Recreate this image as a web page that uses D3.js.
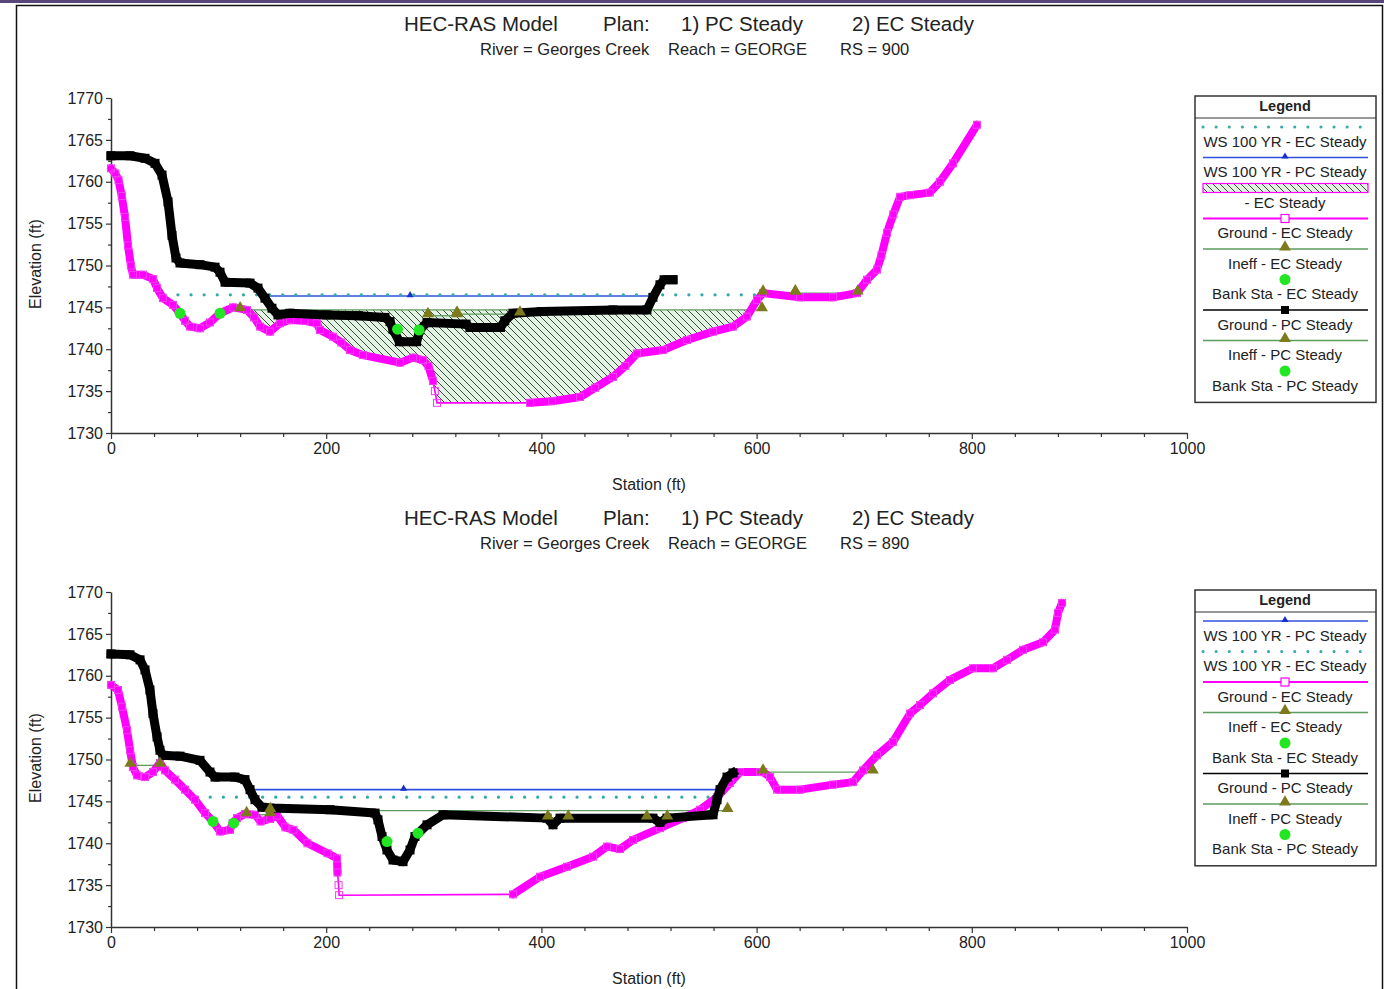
<!DOCTYPE html>
<html><head><meta charset="utf-8">
<script src="https://cdn.jsdelivr.net/npm/d3@7"></script>
<style>
html,body{margin:0;padding:0;background:#fff;}
svg{display:block;font-family:"Liberation Sans",Arial,sans-serif;}
</style></head><body>
<svg id="c" width="1384" height="989"></svg>
<script>
// ---------- tick labels ----------
const stationTicks = [0, 200, 400, 600, 800, 1000];
const elevTicks = [1730, 1735, 1740, 1745, 1750, 1755, 1760, 1765, 1770];

// ---------- RS = 900 ----------
const groundEC_900 = [[0,1761.6],[4,1761],[7,1760.2],[10,1758.3],[13,1755.8],[15.8,1752.4],[18.5,1750],[20.4,1748.9],[29.7,1748.9],[39,1748.4],[42.8,1747.3],[48.3,1746.1],[57.6,1745.3],[64.1,1744.3],[68.8,1743.4],[73.4,1742.7],[82.7,1742.5],[92,1743.2],[101.3,1744.3],[113.4,1745.0],[126.4,1744.7],[133,1743.8],[138.5,1742.7],[147.8,1742.1],[157,1743.1],[166.4,1743.5],[180,1743.4],[191.4,1743.1],[194.2,1742.3],[206.3,1741.5],[214,1740.8],[222.1,1739.9],[234.2,1739.3],[268.6,1738.4],[280.7,1739],[290,1738.7],[295,1738.0],[299.3,1736.2],[301,1735],[303,1733.6],[389.4,1733.6],[410,1733.8],[435.9,1734.3],[450,1735.4],[466.5,1736.7],[478,1738],[488.8,1739.5],[513,1739.9],[535.3,1741.1],[559.5,1742.1],[578,1742.7],[591,1743.9],[600.4,1745.9],[606,1746.7],[640.3,1746.2],[671,1746.2],[693.3,1746.7],[702.6,1748.3],[711.9,1749.5],[716,1751.2],[721.2,1753.9],[727,1756.1],[733.3,1758.2],[742.6,1758.4],[761,1758.7],[770.4,1760],[782.5,1762.2],[804.8,1766.8]];
const sparseEC_900 = [[298, 390]];
const groundPC_900 = [[0,1763.1],[17.7,1763.1],[31.6,1762.8],[40.9,1762.2],[47.4,1760.8],[53,1757.6],[56.7,1753.6],[60.4,1750.9],[64.1,1750.3],[82.7,1750.1],[96.7,1749.8],[101.3,1749.2],[106,1748],[129.2,1747.9],[136.6,1747.3],[143.1,1746.1],[149.6,1744.9],[155.2,1744.1],[166.4,1744.3],[200,1744.1],[230,1744.0],[254.6,1743.8],[259.3,1743.3],[262,1742.4],[268,1740.9],[284,1740.9],[287,1742.3],[293.7,1743.2],[330,1743.0],[333.6,1742.6],[362,1742.6],[366,1743.4],[373.6,1744.3],[400,1744.5],[466.5,1744.7],[498.1,1744.7],[503.7,1746.2],[510.2,1747.7],[514,1748.3],[522.3,1748.3]];
const wsEC_900 = [50, 700, 1746.5];
const wsPC_900 = [140, 504, 1746.35];
const hatchEC_900 = [120, 605, 1744.7];
const ineffEC_900 = [[120,605,1744.7],[606,636,1746.7],[636,694,1746.7]];
const ineffPC_900 = [[294.6,321.6,1744.0],[321.6,380.1,1744.2]];
const bankEC_900 = [[64.1,1744.3],[101.3,1744.3]];
const bankPC_900 = [[266.3,1742.4],[286.3,1742.3]];
const legendKeys_900 = ["wsEC","wsPC","hatch","gEC","iEC","bEC","gPC","iPC","bPC"];
const legendText_900 = ["WS 100 YR - EC Steady","WS 100 YR - PC Steady","- EC Steady","Ground - EC Steady","Ineff - EC Steady","Bank Sta - EC Steady","Ground - PC Steady","Ineff - PC Steady","Bank Sta - PC Steady"];

// ---------- RS = 890 ----------
const groundEC_890 = [[0,1758.9],[6.5,1758.3],[10.2,1756.3],[14.9,1753.5],[17.7,1751.1],[20.4,1749.1],[24.2,1748.1],[31.6,1747.9],[39,1748.5],[45.5,1749.6],[50.2,1748.7],[59.5,1747.6],[68.8,1746.4],[78.1,1745.2],[87.4,1743.6],[94.8,1742.6],[101.3,1741.4],[110.6,1741.6],[113,1742.4],[117.1,1743.0],[124.5,1743.5],[133.8,1743.4],[139,1742.6],[147.8,1742.9],[154.5,1743.3],[162,1741.9],[169.6,1741.6],[182.6,1740],[201.2,1738.8],[210,1738.2],[210.5,1736.5],[211.5,1735],[212,1733.8],[373.6,1733.9],[398.7,1736],[423.8,1737.2],[448,1738.4],[461,1739.6],[473,1739.3],[485.1,1740.4],[510.2,1741.8],[531.6,1743],[547.4,1744],[563.2,1745.5],[575.3,1747.2],[584.6,1748.5],[603.2,1748.5],[606,1748.5],[612.5,1747.9],[619,1746.4],[640.3,1746.4],[671,1747],[689.6,1747.3],[698.9,1748.7],[711.9,1750.5],[726.8,1752.1],[742.6,1755.5],[751.9,1756.5],[763.9,1757.9],[779.7,1759.5],[801.1,1760.9],[819.7,1760.9],[832.7,1761.9],[847.6,1763.1],[866.2,1764],[877.3,1765.5],[880.1,1767.5],[883.8,1768.7]];
const sparseEC_890 = [[210.2, 374]];
const groundPC_890 = [[0,1762.6],[17.7,1762.5],[27,1761.9],[31.6,1760.7],[36.2,1758.3],[39,1755.5],[42.8,1752.7],[45.5,1751.1],[48.3,1750.5],[64.1,1750.4],[82.7,1749.9],[92,1748.5],[96.7,1747.9],[115.2,1747.9],[124.5,1747.6],[129.2,1746.4],[133.8,1745.2],[140.3,1744.3],[147.8,1744.2],[203.5,1744.0],[245.4,1743.6],[248.1,1742.8],[251.9,1740.8],[256.5,1739.2],[262.1,1738],[271.4,1737.8],[277.9,1739.2],[282.5,1740.8],[293.7,1742.2],[308.6,1743.4],[405.2,1743],[410.8,1742.2],[417.3,1743],[503.7,1743],[510.2,1742.5],[516.7,1743],[559.5,1743.4],[563.2,1745.2],[566,1746.4],[572.5,1747.9],[578.1,1748.4]];
const wsEC_890 = [80, 560, 1745.5];
const wsPC_890 = [129, 568, 1746.4];
const ineffEC_890 = [[18,45.5,1749.3],[126,148,1743.4],[148,573,1743.9],[606,708,1748.5]];
const ineffPC_890 = [[406,425,1743.0],[498,517,1743.0]];
const bankEC_890 = [[94.8,1742.6],[114,1742.4]];
const bankPC_890 = [[256.5,1740.2],[285.3,1741.2]];
const legendKeys_890 = ["wsPC","wsEC","gEC","iEC","bEC","gPC","iPC","bPC"];
const legendText_890 = ["WS 100 YR - PC Steady","WS 100 YR - EC Steady","Ground - EC Steady","Ineff - EC Steady","Bank Sta - EC Steady","Ground - PC Steady","Ineff - PC Steady","Bank Sta - PC Steady"];

const titleParts = ["HEC-RAS Model","Plan:","1) PC Steady","2) EC Steady"];

// ---------- styles ----------
const C = {magenta:"#ff00ff", black:"#000", blue:"#3050e0", cyan:"#36a9a9",
  ineffLine:"#5c9c5c", ineffTri:"#7d7a1c", bank:"#22e622", text:"#222"};

const svg = d3.select("#c");
const defs = svg.append("defs");
const pat = defs.append("pattern").attr("id","hatch").attr("patternUnits","userSpaceOnUse")
  .attr("width",7).attr("height",7);
pat.append("rect").attr("width",7).attr("height",7).attr("fill","#e4f2e4");
pat.append("path").attr("d","M0,0 L7,7 M-1,6 L1,8 M6,-1 L8,1").attr("stroke","#23402a").attr("stroke-width",0.9);

// window frame
svg.append("rect").attr("x",0).attr("y",0).attr("width",1384).attr("height",3).attr("fill","#57467a");
svg.append("path").attr("d","M16.5,989 V5.5 H1382.5 V989").attr("fill","none").attr("stroke","#111").attr("stroke-width",1.5);

const tri = d3.symbol().type(d3.symbolTriangle);

function splitDense(data, sparse) {
  const inSparse = (a,b) => sparse.some(([s0,s1]) => a[0]>=s0 && b[0]<=s1);
  const groups = []; let cur = null;
  for (let i=0;i<data.length-1;i++) {
    const a=data[i], b=data[i+1];
    if (!inSparse(a,b)) { if(!cur){cur=[a];groups.push(cur);} cur.push(b); } else cur=null;
  }
  return groups;
}

function panel(dy, P) {
  const g = svg.append("g").attr("transform",`translate(0,${dy})`);
  const x = d3.scaleLinear().domain([0,1000]).range([111,1187]);
  const y = d3.scaleLinear().domain([1730,1770]).range([433,98]);
  const line = d3.line().x(d=>x(d[0])).y(d=>y(d[1]));

  // titles
  const tx = [404,603,681,852];
  titleParts.forEach((t,i)=> g.append("text").attr("x",tx[i]).attr("y",31).attr("font-size",20.5).attr("fill",C.text).text(t));
  const sub = ["River = Georges Creek","Reach = GEORGE","RS = "+P.rs];
  const sx = [480,668,840];
  sub.forEach((t,i)=> g.append("text").attr("x",sx[i]).attr("y",55).attr("font-size",16.5).attr("fill",C.text).text(t));

  // axes
  g.append("g").attr("transform","translate(111,0)")
    .call(d3.axisLeft(y).tickValues(elevTicks).tickSize(5).tickSizeOuter(0).tickPadding(3).tickFormat(d3.format("d")));
  g.append("g").attr("transform","translate(111,0)")
    .call(d3.axisLeft(y).tickValues(elevTicks.slice(0,-1).map(v=>v+2.5)).tickSize(3).tickFormat("")).select(".domain").remove();
  g.append("g").attr("transform","translate(0,433)")
    .call(d3.axisBottom(x).tickValues(stationTicks).tickSize(6).tickSizeOuter(0).tickPadding(4).tickFormat(d3.format("d")));
  g.append("g").attr("transform","translate(0,433)")
    .call(d3.axisBottom(x).tickValues(d3.range(40,1000,40).filter(v=>v%200)).tickSize(4).tickFormat("")).select(".domain").remove();
  g.selectAll(".domain").attr("stroke","#333").attr("stroke-width",1.5);
  g.selectAll(".tick line").attr("stroke","#333").attr("stroke-width",1.2);
  g.selectAll(".tick text").attr("font-size",16).attr("fill",C.text).attr("font-family","Liberation Sans, Arial, sans-serif");
  g.append("text").attr("transform","translate(41,264) rotate(-90)").attr("text-anchor","middle")
    .attr("font-size",16).attr("fill",C.text).text("Elevation (ft)");
  g.append("text").attr("x",649).attr("y",490).attr("text-anchor","middle")
    .attr("font-size",16).attr("fill",C.text).text("Station (ft)");

  // hatch fill
  if (P.hatch) {
    const [h0,h1,he] = P.hatch;
    const pts = P.gEC.filter(d=>d[0]>=h0 && d[0]<=h1);
    g.append("path").datum(pts)
      .attr("d", d3.area().x(d=>x(d[0])).y0(y(he)).y1(d=>y(Math.min(d[1],he))))
      .attr("fill","url(#hatch)");
  }
  // ineff lines
  [...P.iEC, ...P.iPC].forEach(s=> g.append("line").attr("x1",x(s[0])).attr("x2",x(s[1])).attr("y1",y(s[2])).attr("y2",y(s[2]))
    .attr("stroke",C.ineffLine).attr("stroke-width",1.3));
  // WS PC
  const [p0,p1,pe] = P.wsPC;
  g.append("line").attr("x1",x(p0)).attr("x2",x(p1)).attr("y1",y(pe)).attr("y2",y(pe)).attr("stroke",C.blue).attr("stroke-width",1.6);
  g.append("path").attr("d",tri.size(22)()).attr("transform",`translate(${x(P.wsPCmark)},${y(pe)-1})`).attr("fill","#1830c8");
  // WS EC dotted
  const [e0,e1,ee] = P.wsEC;
  g.append("line").attr("x1",x(e0)).attr("x2",x(e1)).attr("y1",y(ee)).attr("y2",y(ee)).attr("stroke",C.cyan)
    .attr("stroke-width",3.2).attr("stroke-linecap","round").attr("stroke-dasharray","0.1 13");

  // Ground EC
  g.append("path").datum(P.gEC).attr("d",line).attr("fill","none").attr("stroke",C.magenta).attr("stroke-width",1.6);
  splitDense(P.gEC, P.sparse).forEach(seg=> g.append("path").datum(seg).attr("d",line).attr("fill","none")
    .attr("stroke",C.magenta).attr("stroke-width",8).attr("stroke-linejoin","round").attr("stroke-linecap","round"));
  g.selectAll(null).data(P.gEC).join("rect").attr("x",d=>x(d[0])-3.5).attr("y",d=>y(d[1])-3.5)
    .attr("width",7).attr("height",7).attr("fill","none").attr("stroke","#f040f0").attr("stroke-width",1);

  // Ground PC
  g.append("path").datum(P.gPC).attr("d",line).attr("fill","none").attr("stroke",C.black).attr("stroke-width",9)
    .attr("stroke-linejoin","round").attr("stroke-linecap","square");
  g.selectAll(null).data(P.gPC).join("rect").attr("x",d=>x(d[0])-4.5).attr("y",d=>y(d[1])-4.5)
    .attr("width",9).attr("height",9).attr("fill",C.black);

  // ineff triangles
  [...P.iEC, ...P.iPC].forEach(s=> [s[0],s[1]].forEach(st=> g.append("path").attr("d",tri.size(62)())
    .attr("transform",`translate(${x(st)},${y(s[2])-2})`).attr("fill",C.ineffTri)));
  // bank stations
  [...P.bEC, ...P.bPC].forEach(b=> g.append("circle").attr("cx",x(b[0])).attr("cy",y(b[1])).attr("r",5.5).attr("fill",C.bank));

  // legend
  const n = P.legendKeys.length;
  const lg = g.append("g");
  lg.append("rect").attr("x",1195).attr("y",96).attr("width",181).attr("height",30.6*n+31)
    .attr("fill","#fff").attr("stroke","#333").attr("stroke-width",1.5);
  lg.append("line").attr("x1",1195).attr("x2",1376).attr("y1",118).attr("y2",118).attr("stroke","#333").attr("stroke-width",1.2);
  lg.append("text").attr("x",1285).attr("y",111).attr("text-anchor","middle").attr("font-size",14.5).attr("font-weight","bold")
    .attr("fill",C.text).text("Legend");
  P.legendKeys.forEach((k,i)=>{
    const ly = 127 + i*30.5, cx = 1285, lx0 = 1203, lx1 = 1368;
    if (k==="wsEC") lg.append("line").attr("x1",lx0).attr("x2",lx1).attr("y1",ly).attr("y2",ly).attr("stroke",C.cyan)
      .attr("stroke-width",3).attr("stroke-linecap","round").attr("stroke-dasharray","0.1 13");
    if (k==="wsPC") { lg.append("line").attr("x1",lx0).attr("x2",lx1).attr("y1",ly).attr("y2",ly).attr("stroke",C.blue).attr("stroke-width",1.6);
      lg.append("path").attr("d",tri.size(22)()).attr("transform",`translate(${cx},${ly-1})`).attr("fill","#1830c8"); }
    if (k==="hatch") lg.append("rect").attr("x",lx0).attr("y",ly-4.5).attr("width",lx1-lx0).attr("height",9)
      .attr("fill","url(#hatch)").attr("stroke",C.magenta).attr("stroke-width",1.2);
    if (k==="gEC") { lg.append("line").attr("x1",lx0).attr("x2",lx1).attr("y1",ly).attr("y2",ly).attr("stroke",C.magenta).attr("stroke-width",2);
      lg.append("rect").attr("x",cx-4).attr("y",ly-4).attr("width",8).attr("height",8).attr("fill","#fff").attr("stroke",C.magenta).attr("stroke-width",1.2); }
    if (k==="gPC") { lg.append("line").attr("x1",lx0).attr("x2",lx1).attr("y1",ly).attr("y2",ly).attr("stroke",C.black).attr("stroke-width",1.5);
      lg.append("rect").attr("x",cx-4).attr("y",ly-4).attr("width",8).attr("height",8).attr("fill",C.black); }
    if (k==="iEC"||k==="iPC") { lg.append("line").attr("x1",lx0).attr("x2",lx1).attr("y1",ly).attr("y2",ly).attr("stroke",C.ineffLine).attr("stroke-width",1.5);
      lg.append("path").attr("d",tri.size(60)()).attr("transform",`translate(${cx},${ly-2})`).attr("fill",C.ineffTri); }
    if (k==="bEC"||k==="bPC") lg.append("circle").attr("cx",cx).attr("cy",ly).attr("r",5.5).attr("fill",C.bank);
    lg.append("text").attr("x",cx).attr("y",ly+19.5).attr("text-anchor","middle").attr("font-size",15).attr("fill",C.text).text(P.legendText[i]);
  });
}

panel(0, {rs:900, gEC:groundEC_900, sparse:sparseEC_900, gPC:groundPC_900, wsEC:wsEC_900, wsPC:wsPC_900, wsPCmark:278,
  hatch:hatchEC_900, iEC:ineffEC_900, iPC:ineffPC_900, bEC:bankEC_900, bPC:bankPC_900,
  legendKeys:legendKeys_900, legendText:legendText_900});
panel(494, {rs:890, gEC:groundEC_890, sparse:sparseEC_890, gPC:groundPC_890, wsEC:wsEC_890, wsPC:wsPC_890, wsPCmark:272,
  hatch:null, iEC:ineffEC_890, iPC:ineffPC_890, bEC:bankEC_890, bPC:bankPC_890,
  legendKeys:legendKeys_890, legendText:legendText_890});
</script>
</body></html>
